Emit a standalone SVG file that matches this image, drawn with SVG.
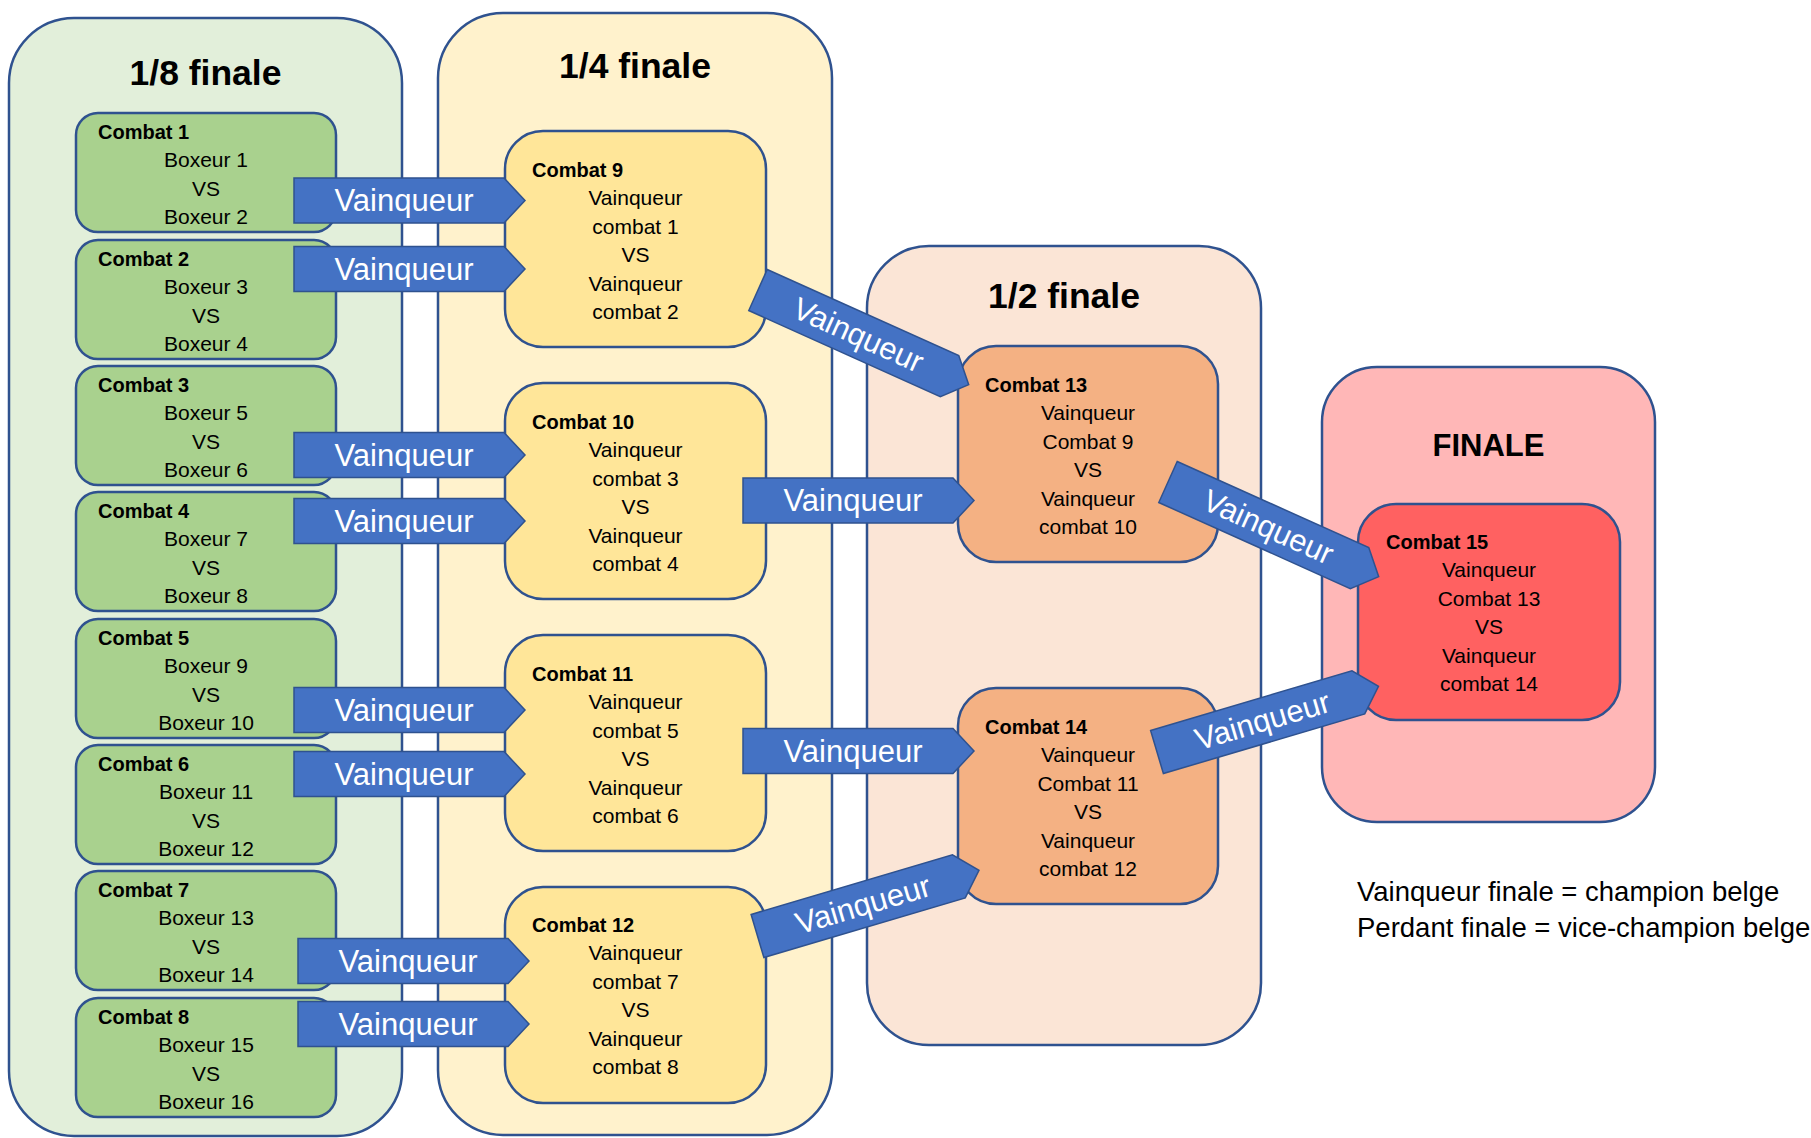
<svg xmlns="http://www.w3.org/2000/svg" xmlns:xlink="http://www.w3.org/1999/xlink" width="1811" height="1138" viewBox="0 0 1811 1138">
<style>
  .panel { stroke: #2F528F; stroke-width: 2.5; }
  .node { stroke: #2F528F; stroke-width: 2.5; }
  .title { font-family: "Liberation Sans", Arial, sans-serif; font-weight: bold; font-size: 35.5px; fill: #000; text-anchor: middle; }
  .lbl { font-family: "Liberation Sans", Arial, sans-serif; font-weight: bold; font-size: 20px; fill: #000; }
  .body { font-family: "Liberation Sans", Arial, sans-serif; font-size: 21px; fill: #000; text-anchor: middle; }
  .arrtxt { font-family: "Liberation Sans", Arial, sans-serif; font-size: 31px; fill: #fff; text-anchor: middle; }
  .arrow { fill: #4472C4; stroke: #2F528F; stroke-width: 1.5; }
  .legend { font-family: "Liberation Sans", Arial, sans-serif; font-size: 27.5px; fill: #000; }
  .g { fill: #A9D18E; } .y { fill: #FFE699; } .o { fill: #F4B183; } .r { fill: #FF6161; }
</style>
<defs>
  <path id="arr" class="arrow" d="M0,-22.5H210L231,0L210,22.5H0Z"/>
</defs>
<rect width="1811" height="1138" fill="#fff"/>

<g id="panel-1-8">
  <rect class="panel" x="9" y="18" width="393" height="1118" rx="65" fill="#E2EFDA"/>
  <text class="title" x="205.5" y="85">1/8 finale</text>
</g>
<g id="panel-1-4">
  <rect class="panel" x="438" y="13" width="394" height="1122" rx="65" fill="#FFF2CC"/>
  <text class="title" x="635" y="78">1/4 finale</text>
</g>
<g id="panel-1-2">
  <rect class="panel" x="867" y="246" width="394" height="799" rx="62" fill="#FBE5D6"/>
  <text class="title" x="1064" y="308">1/2 finale</text>
</g>
<g id="panel-finale">
  <rect class="panel" x="1322" y="367" width="333" height="455" rx="55" fill="#FFB7B7"/>
  <text class="title" x="1488.5" y="456" style="font-size:31px">FINALE</text>
</g>

<g id="combat-1"><rect class="node g" x="76" y="113" width="260" height="119" rx="22"/>
  <text class="lbl" x="98" y="138.5">Combat 1</text>
  <text class="body" x="206" y="167">Boxeur 1</text><text class="body" x="206" y="195.5">VS</text><text class="body" x="206" y="224">Boxeur 2</text></g>
<g id="combat-2"><rect class="node g" x="76" y="240" width="260" height="119" rx="22"/>
  <text class="lbl" x="98" y="265.5">Combat 2</text>
  <text class="body" x="206" y="294">Boxeur 3</text><text class="body" x="206" y="322.5">VS</text><text class="body" x="206" y="351">Boxeur 4</text></g>
<g id="combat-3"><rect class="node g" x="76" y="366" width="260" height="119" rx="22"/>
  <text class="lbl" x="98" y="391.5">Combat 3</text>
  <text class="body" x="206" y="420">Boxeur 5</text><text class="body" x="206" y="448.5">VS</text><text class="body" x="206" y="477">Boxeur 6</text></g>
<g id="combat-4"><rect class="node g" x="76" y="492" width="260" height="119" rx="22"/>
  <text class="lbl" x="98" y="517.5">Combat 4</text>
  <text class="body" x="206" y="546">Boxeur 7</text><text class="body" x="206" y="574.5">VS</text><text class="body" x="206" y="603">Boxeur 8</text></g>
<g id="combat-5"><rect class="node g" x="76" y="619" width="260" height="119" rx="22"/>
  <text class="lbl" x="98" y="644.5">Combat 5</text>
  <text class="body" x="206" y="673">Boxeur 9</text><text class="body" x="206" y="701.5">VS</text><text class="body" x="206" y="730">Boxeur 10</text></g>
<g id="combat-6"><rect class="node g" x="76" y="745" width="260" height="119" rx="22"/>
  <text class="lbl" x="98" y="770.5">Combat 6</text>
  <text class="body" x="206" y="799">Boxeur 11</text><text class="body" x="206" y="827.5">VS</text><text class="body" x="206" y="856">Boxeur 12</text></g>
<g id="combat-7"><rect class="node g" x="76" y="871" width="260" height="119" rx="22"/>
  <text class="lbl" x="98" y="896.5">Combat 7</text>
  <text class="body" x="206" y="925">Boxeur 13</text><text class="body" x="206" y="953.5">VS</text><text class="body" x="206" y="982">Boxeur 14</text></g>
<g id="combat-8"><rect class="node g" x="76" y="998" width="260" height="119" rx="22"/>
  <text class="lbl" x="98" y="1023.5">Combat 8</text>
  <text class="body" x="206" y="1052">Boxeur 15</text><text class="body" x="206" y="1080.5">VS</text><text class="body" x="206" y="1109">Boxeur 16</text></g>

<g id="combat-9"><rect class="node y" x="505" y="131" width="261" height="216" rx="38"/>
  <text class="lbl" x="532" y="176.5">Combat 9</text>
  <text class="body" x="635.5" y="205">Vainqueur</text><text class="body" x="635.5" y="233.5">combat 1</text><text class="body" x="635.5" y="262">VS</text><text class="body" x="635.5" y="290.5">Vainqueur</text><text class="body" x="635.5" y="319">combat 2</text></g>
<g id="combat-10"><rect class="node y" x="505" y="383" width="261" height="216" rx="38"/>
  <text class="lbl" x="532" y="428.5">Combat 10</text>
  <text class="body" x="635.5" y="457">Vainqueur</text><text class="body" x="635.5" y="485.5">combat 3</text><text class="body" x="635.5" y="514">VS</text><text class="body" x="635.5" y="542.5">Vainqueur</text><text class="body" x="635.5" y="571">combat 4</text></g>
<g id="combat-11"><rect class="node y" x="505" y="635" width="261" height="216" rx="38"/>
  <text class="lbl" x="532" y="680.5">Combat 11</text>
  <text class="body" x="635.5" y="709">Vainqueur</text><text class="body" x="635.5" y="737.5">combat 5</text><text class="body" x="635.5" y="766">VS</text><text class="body" x="635.5" y="794.5">Vainqueur</text><text class="body" x="635.5" y="823">combat 6</text></g>
<g id="combat-12"><rect class="node y" x="505" y="887" width="261" height="216" rx="38"/>
  <text class="lbl" x="532" y="931.5">Combat 12</text>
  <text class="body" x="635.5" y="960">Vainqueur</text><text class="body" x="635.5" y="988.5">combat 7</text><text class="body" x="635.5" y="1017">VS</text><text class="body" x="635.5" y="1045.5">Vainqueur</text><text class="body" x="635.5" y="1074">combat 8</text></g>

<g id="combat-13"><rect class="node o" x="958" y="346" width="260" height="216" rx="38"/>
  <text class="lbl" x="985" y="391.5">Combat 13</text>
  <text class="body" x="1088" y="420">Vainqueur</text><text class="body" x="1088" y="448.5">Combat 9</text><text class="body" x="1088" y="477">VS</text><text class="body" x="1088" y="505.5">Vainqueur</text><text class="body" x="1088" y="534">combat 10</text></g>
<g id="combat-14"><rect class="node o" x="958" y="688" width="260" height="216" rx="38"/>
  <text class="lbl" x="985" y="733.5">Combat 14</text>
  <text class="body" x="1088" y="762">Vainqueur</text><text class="body" x="1088" y="790.5">Combat 11</text><text class="body" x="1088" y="819">VS</text><text class="body" x="1088" y="847.5">Vainqueur</text><text class="body" x="1088" y="876">combat 12</text></g>

<g id="combat-15"><rect class="node r" x="1358" y="504" width="262" height="216" rx="38"/>
  <text class="lbl" x="1386" y="548.5">Combat 15</text>
  <text class="body" x="1489" y="577">Vainqueur</text><text class="body" x="1489" y="605.5">Combat 13</text><text class="body" x="1489" y="634">VS</text><text class="body" x="1489" y="662.5">Vainqueur</text><text class="body" x="1489" y="691">combat 14</text></g>

<g id="connectors">
  <g transform="translate(294,200.5)"><use xlink:href="#arr" href="#arr"/><text class="arrtxt" x="110" y="10.5">Vainqueur</text></g>
  <g transform="translate(294,269)"><use xlink:href="#arr" href="#arr"/><text class="arrtxt" x="110" y="10.5">Vainqueur</text></g>
  <g transform="translate(294,455)"><use xlink:href="#arr" href="#arr"/><text class="arrtxt" x="110" y="10.5">Vainqueur</text></g>
  <g transform="translate(294,521)"><use xlink:href="#arr" href="#arr"/><text class="arrtxt" x="110" y="10.5">Vainqueur</text></g>
  <g transform="translate(294,710)"><use xlink:href="#arr" href="#arr"/><text class="arrtxt" x="110" y="10.5">Vainqueur</text></g>
  <g transform="translate(294,774)"><use xlink:href="#arr" href="#arr"/><text class="arrtxt" x="110" y="10.5">Vainqueur</text></g>
  <g transform="translate(298,961)"><use xlink:href="#arr" href="#arr"/><text class="arrtxt" x="110" y="10.5">Vainqueur</text></g>
  <g transform="translate(298,1024)"><use xlink:href="#arr" href="#arr"/><text class="arrtxt" x="110" y="10.5">Vainqueur</text></g>
  <g transform="translate(758,290) rotate(24.2)"><use xlink:href="#arr" href="#arr"/><text class="arrtxt" x="110" y="10.5">Vainqueur</text></g>
  <g transform="translate(743,500.5)"><use xlink:href="#arr" href="#arr"/><text class="arrtxt" x="110" y="10.5">Vainqueur</text></g>
  <g transform="translate(743,751)"><use xlink:href="#arr" href="#arr"/><text class="arrtxt" x="110" y="10.5">Vainqueur</text></g>
  <g transform="translate(757.5,936) rotate(-16.5)"><use xlink:href="#arr" href="#arr"/><text class="arrtxt" x="110" y="10.5">Vainqueur</text></g>
  <g transform="translate(1168,482) rotate(24.2)"><use xlink:href="#arr" href="#arr"/><text class="arrtxt" x="110" y="10.5">Vainqueur</text></g>
  <g transform="translate(1157,752) rotate(-16.5)"><use xlink:href="#arr" href="#arr"/><text class="arrtxt" x="110" y="10.5">Vainqueur</text></g>
</g>

<g id="legend">
  <text class="legend" x="1357" y="901">Vainqueur finale = champion belge</text>
  <text class="legend" x="1357" y="937">Perdant finale = vice-champion belge</text>
</g>
</svg>
